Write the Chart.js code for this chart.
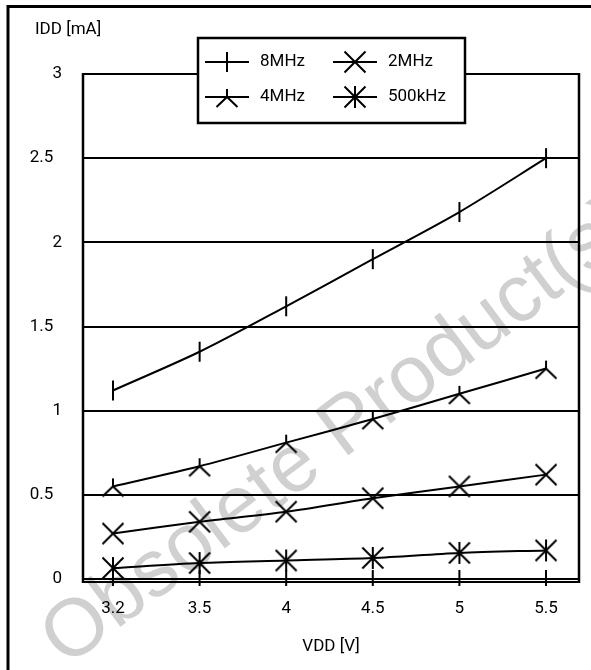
<!DOCTYPE html>
<html>
<head>
<meta charset="utf-8">
<script src="https://cdn.jsdelivr.net/npm/chart.js@4.4.0/dist/chart.umd.min.js"></script>
<style>
  html, body { margin: 0; padding: 0; background: #fff; }
  #wrap { width: 591px; height: 670px; }
</style>
</head>
<body>
<div id="wrap"><canvas id="iddChart" width="591" height="670"></canvas></div>
<script>
// Supply voltage categories (x axis) and y tick values
const vddLabels = ['3.2', '3.5', '4', '4.5', '5', '5.5'];
const yTickValues = [0, 0.5, 1, 1.5, 2, 2.5, 3];

// IDD [mA] per clock frequency
const seriesNames = ['8MHz', '4MHz', '2MHz', '500kHz'];
const idd8MHz = [1.12, 1.35, 1.62, 1.9, 2.18, 2.5];
const idd4MHz = [0.55, 0.67, 0.81, 0.95, 1.1, 1.25];
const idd2MHz = [0.27, 0.34, 0.4, 0.48, 0.55, 0.62];
const idd500kHz = [0.065, 0.095, 0.11, 0.125, 0.155, 0.17];
const markerKinds = ['bar', 'fork', 'cross', 'star'];

const FONT = "Roboto, 'Liberation Sans', sans-serif";
const FONT_SIZE = 17;

// Draw one marker shape centred on cx, cy
function drawMarker(ctx, kind, cx, cy) {
    ctx.beginPath();
    if (kind === 'bar') {
        ctx.moveTo(cx, cy - 10); ctx.lineTo(cx, cy + 10);
    } else if (kind === 'fork') {
        ctx.moveTo(cx, cy - 8); ctx.lineTo(cx, cy);
        ctx.moveTo(cx - 10.5, cy + 10); ctx.lineTo(cx, cy); ctx.lineTo(cx + 10.5, cy + 10);
    } else {
        ctx.moveTo(cx - 10.5, cy - 10.5); ctx.lineTo(cx + 10.5, cy + 10.5);
        ctx.moveTo(cx + 10.5, cy - 10.5); ctx.lineTo(cx - 10.5, cy + 10.5);
        if (kind === 'star') { ctx.moveTo(cx, cy - 11); ctx.lineTo(cx, cy + 11); }
    }
    ctx.stroke();
}

// Small canvases used as point styles (with a line for the legend)
function markerCanvas(kind, withLine) {
    const c = document.createElement('canvas');
    c.width = withLine ? 44 : 26;
    c.height = 26;
    const ctx = c.getContext('2d');
    ctx.strokeStyle = '#000';
    ctx.lineWidth = 2;
    if (withLine) {
        ctx.beginPath(); ctx.moveTo(0, 13); ctx.lineTo(44, 13); ctx.stroke();
    }
    drawMarker(ctx, kind, c.width / 2, 13);
    return c;
}

const seriesValues = [idd8MHz, idd4MHz, idd2MHz, idd500kHz];
const datasets = seriesValues.map((vals, i) => ({
    label: seriesNames[i],
    data: vals.map((v, j) => ({ x: j, y: v })),
    borderColor: '#000',
    borderWidth: 2,
    tension: 0.3,
    fill: false,
    pointStyle: markerCanvas(markerKinds[i], false),
    pointRadius: 10,
    legendIcon: markerCanvas(markerKinds[i], true),
}));

// Background, outer frame and watermark
const backdropPlugin = {
    id: 'backdrop',
    beforeDraw(chart) {
        const ctx = chart.ctx;
        ctx.save();
        ctx.fillStyle = '#fff';
        ctx.fillRect(0, 0, chart.width, chart.height);
        ctx.translate(66, 668);
        ctx.rotate(-37 * Math.PI / 180);
        ctx.fillStyle = '#d0d0d0';
        ctx.font = "81px 'Liberation Sans', Arial, sans-serif";
        ctx.textBaseline = 'alphabetic';
        ctx.fillText('Obsolete Product(s)', 0, 0);
        ctx.restore();

        ctx.save();
        ctx.strokeStyle = '#000';
        ctx.lineWidth = 3;
        ctx.beginPath();
        ctx.moveTo(8, chart.height + 2);
        ctx.lineTo(8, 6.5);
        ctx.lineTo(chart.width + 2, 6.5);
        ctx.stroke();
        ctx.restore();
    },
    afterDatasetsDraw(chart) {
        const { ctx, chartArea: a, scales } = chart;
        ctx.save();
        ctx.strokeStyle = '#000';
        ctx.lineWidth = 2.5;
        ctx.beginPath();
        ctx.moveTo(a.left, a.top - 1); ctx.lineTo(a.left, a.bottom + 4);
        ctx.moveTo(a.right, a.top - 1); ctx.lineTo(a.right, a.bottom + 4);
        ctx.stroke();
        ctx.lineWidth = 2;
        ctx.beginPath();
        ctx.moveTo(a.left, a.bottom + 3); ctx.lineTo(a.right, a.bottom + 3);
        // tick marks crossing the bottom axis
        vddLabels.forEach((_, i) => {
            const px = scales.x.getPixelForValue(i);
            ctx.moveTo(px, a.bottom - 9); ctx.lineTo(px, a.bottom + 7);
        });
        ctx.stroke();

        // y axis title
        ctx.fillStyle = '#000';
        ctx.font = FONT_SIZE + 'px ' + FONT;
        ctx.textAlign = 'left';
        ctx.textBaseline = 'middle';
        ctx.fillText('IDD [mA]', 35, 30);
        ctx.restore();
    }
};

// Boxed legend overlapping the top of the plot
const legendBoxPlugin = {
    id: 'legendBox',
    afterDraw(chart) {
        const ctx = chart.ctx;
        ctx.save();
        ctx.fillStyle = '#fff';
        ctx.fillRect(198, 38, 267, 85);
        ctx.strokeStyle = '#000';
        ctx.lineWidth = 2.5;
        ctx.strokeRect(198, 38, 267, 85);
        ctx.fillStyle = '#000';
        ctx.font = FONT_SIZE + 'px ' + FONT;
        ctx.textAlign = 'left';
        ctx.textBaseline = 'middle';
        const colX = [205, 333];
        const rowY = [62, 97];
        chart.data.datasets.forEach((ds, i) => {
            const x = colX[Math.floor(i / 2)];
            const y = rowY[i % 2];
            const icon = ds.legendIcon;
            ctx.drawImage(icon, x, y - icon.height / 2);
            ctx.fillText(ds.label, x + 55, y);
        });
        ctx.restore();
    }
};

const chartElement = document.getElementById('iddChart');
new Chart(chartElement.getContext('2d'), {
    type: 'line',
    data: { datasets: datasets },
    options: {
        responsive: false,
        animation: false,
        devicePixelRatio: 1,
        layout: { padding: { left: 0, top: 74, right: 12, bottom: 0 } },
        plugins: {
            legend: { display: false },
            tooltip: { enabled: false },
        },
        scales: {
            x: {
                type: 'linear',
                min: -0.346,
                max: 5.381,
                afterBuildTicks: (s) => { s.ticks = vddLabels.map((_, i) => ({ value: i })); },
                afterFit: (s) => { s.height = 91; },
                grid: { display: false, drawTicks: false },
                border: { display: false },
                ticks: {
                    padding: 20,
                    color: '#000',
                    autoSkip: false,
                    maxRotation: 0,
                    font: { family: FONT, size: FONT_SIZE },
                    callback: (v) => vddLabels[v],
                },
                title: {
                    display: true,
                    text: 'VDD [V]',
                    color: '#000',
                    font: { family: FONT, size: FONT_SIZE },
                    padding: { top: 0, bottom: 13 },
                },
            },
            y: {
                min: 0,
                max: 3,
                afterBuildTicks: (s) => { s.ticks = yTickValues.map((v) => ({ value: v })); },
                afterFit: (s) => { s.width = 83; },
                grid: { color: '#000', lineWidth: 2, drawTicks: false },
                border: { display: false },
                ticks: {
                    padding: 21,
                    color: '#000',
                    font: { family: FONT, size: FONT_SIZE },
                    callback: (v) => (v % 1 ? v + '\u2002' : String(v)),
                },
            },
        },
    },
    plugins: [backdropPlugin, legendBoxPlugin],
});
</script>
</body>
</html>
